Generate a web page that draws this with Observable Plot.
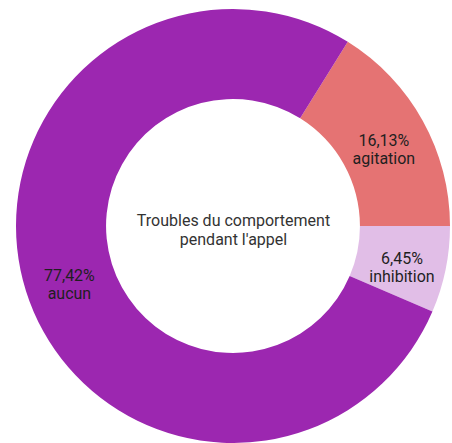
<!DOCTYPE html>
<html>
<head>
<meta charset="utf-8">
<script src="https://cdn.jsdelivr.net/npm/d3@7"></script>
<script src="https://cdn.jsdelivr.net/npm/@observablehq/plot@0.6"></script>
<style>
  html, body { margin: 0; padding: 0; background: #fff; }
  #chart svg { display: block; }
</style>
</head>
<body>
<div id="chart"></div>
<script>
const categories = ["agitation", "inhibition", "aucun"];
const values = [16.13, 6.45, 77.42];
const valueLabels = ["16,13%", "6,45%", "77,42%"];
const colors = ["#e57373", "#e1bee7", "#9c27b0"];
const centerTitle = "Troubles du comportement\npendant l'appel";

const innerRatio = 0.585;
const startDeg = 90 - values[0] * 3.6; // agitation ends at 3 o'clock

const pie = d3.pie().sort(null).value(d => d.value)
  .startAngle(startDeg * Math.PI / 180)
  .endAngle(startDeg * Math.PI / 180 + 2 * Math.PI);

const data = categories.map((c, i) => ({category: c, value: values[i], label: valueLabels[i], color: colors[i]}));
const arcs = pie(data);
const labelR = (1 + innerRatio) / 2;
const labelData = arcs.map(a => {
  const mid = (a.startAngle + a.endAngle) / 2;
  return {x: labelR * Math.sin(mid), y: labelR * Math.cos(mid), text: a.data.label + "\n" + a.data.category};
});

const slices = (index, scales, values, dims) => {
  const cx = scales.x(0), cy = scales.y(0);
  const R = scales.x(1) - scales.x(0);
  const arcGen = d3.arc().innerRadius(R * innerRatio).outerRadius(R);
  const g = d3.create("svg:g").attr("transform", `translate(${cx},${cy})`);
  g.selectAll("path").data(arcs).join("path")
    .attr("d", arcGen)
    .attr("fill", d => d.data.color);
  return g.node();
};

const chart = Plot.plot({
  width: 452,
  height: 443,
  margin: 0,
  x: {domain: [-1, 1], range: [16, 450], axis: null},
  y: {domain: [-1, 1], range: [443, 9], axis: null},
  style: {fontFamily: "Roboto, sans-serif", background: "#fff"},
  marks: [
    slices,
    Plot.text(labelData, {x: "x", y: "y", text: "text", fontSize: 16, fill: "#1f1f1f", dy: 6, lineHeight: 1.15}),
    Plot.text([centerTitle], {x: 0, y: 0, text: d => d, fontSize: 16, fill: "#333", dy: 3, lineHeight: 1.15})
  ]
});
document.getElementById("chart").appendChild(chart);
</script>
</body>
</html>
